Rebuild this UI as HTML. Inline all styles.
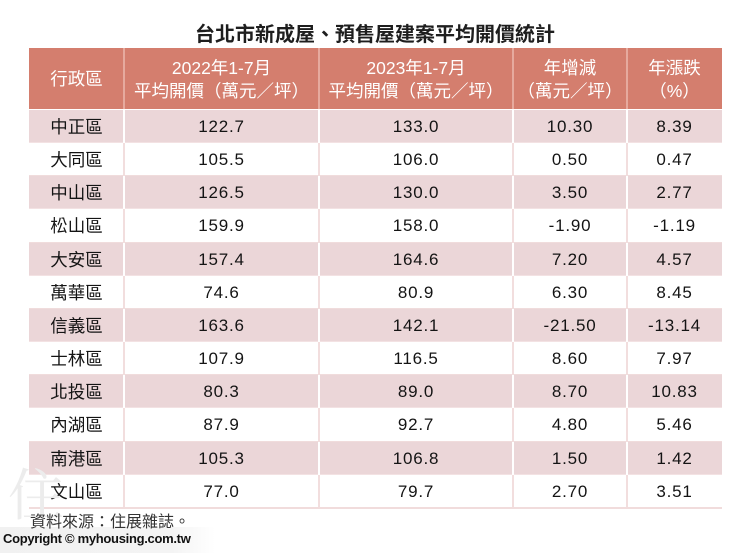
<!DOCTYPE html>
<html>
<head>
<meta charset="utf-8">
<style>
html,body{margin:0;padding:0;background:#fff;}
body{width:750px;height:553px;position:relative;overflow:hidden;font-family:"Liberation Sans","Noto Sans CJK TC",sans-serif;}
.title{position:absolute;left:0;top:21px;width:750px;text-align:center;font-family:"Noto Sans CJK TC",sans-serif;font-weight:bold;font-size:20px;line-height:24px;color:#1e1e1e;}
.hdr{position:absolute;top:48px;height:61px;background:#d47e6e;}
.hcell{position:absolute;top:48px;height:61px;display:flex;align-items:center;justify-content:center;text-align:center;color:#fff;font-family:"Liberation Sans","Noto Sans CJK TC",sans-serif;font-size:17.5px;line-height:23px;padding-top:2px;box-sizing:border-box;}
.hdiv{position:absolute;top:48px;height:61px;width:2px;background:#e6aa9e;}
.row{position:absolute;left:29px;width:693px;height:33.2px;border-bottom:1px solid #f0dcdc;box-sizing:border-box;}
.pink{background:#ebd6d8;border-bottom-color:#f3e2e3;}
.cell{position:absolute;top:0;height:33px;line-height:33px;text-align:center;color:#141414;}
.c0{left:0;width:95px;font-family:"Noto Sans CJK TC",sans-serif;font-size:17.5px;}
.c1{left:95px;width:195px;}
.c2{left:290px;width:194px;}
.c3{left:484px;width:114px;}
.c4{left:598px;width:95px;}
.c1,.c2,.c3,.c4{font-family:"Liberation Sans",sans-serif;font-size:17px;letter-spacing:0.8px;}
.d{position:absolute;top:0;height:33.2px;width:2px;background:#f2dede;}
.pink .d{background:#ffffff;}
.d1{left:94px;}.d2{left:289px;}.d3{left:483px;}.d4{left:597px;}
.bot{position:absolute;left:29px;width:693px;height:2px;top:507px;background:#f1dcdc;}
.src{position:absolute;left:30px;top:509px;font-family:"Noto Sans CJK TC",sans-serif;font-size:16px;line-height:22px;color:#333;z-index:3;}
.copy{position:absolute;left:0;top:527px;width:215px;height:26px;background:linear-gradient(to right,#f1f1f1 0%,#f4f4f4 80%,rgba(255,255,255,0) 100%);z-index:2;}
.copyt{position:absolute;left:3px;top:531px;font-family:"Liberation Sans",sans-serif;font-weight:bold;font-size:13px;letter-spacing:-0.3px;line-height:16px;color:#111;z-index:3;}
.wm{position:absolute;left:8px;top:462px;font-family:"Noto Serif CJK SC",serif;font-size:56px;color:#ececec;line-height:60px;z-index:1;}
</style>
</head>
<body>
<div class="title">台北市新成屋、預售屋建案平均開價統計</div>

<div class="hdr" style="left:29px;width:693px;"></div>
<div class="hcell" style="left:29px;width:95px;">行政區</div>
<div class="hcell" style="left:124px;width:195px;">2022年1-7月<br>平均開價（萬元／坪）</div>
<div class="hcell" style="left:319px;width:194px;">2023年1-7月<br>平均開價（萬元／坪）</div>
<div class="hcell" style="left:513px;width:114px;">年增減<br>（萬元／坪）</div>
<div class="hcell" style="left:627px;width:95px;">年漲跌<br>（%）</div>
<div class="hdiv" style="left:123px;"></div>
<div class="hdiv" style="left:318px;"></div>
<div class="hdiv" style="left:512px;"></div>
<div class="hdiv" style="left:626px;"></div>

<div class="row pink" style="top:110px;"><div class="cell c0">中正區</div><div class="cell c1">122.7</div><div class="cell c2">133.0</div><div class="cell c3">10.30</div><div class="cell c4">8.39</div><div class="d d1"></div><div class="d d2"></div><div class="d d3"></div><div class="d d4"></div></div>
<div class="row" style="top:143.15px;"><div class="cell c0">大同區</div><div class="cell c1">105.5</div><div class="cell c2">106.0</div><div class="cell c3">0.50</div><div class="cell c4">0.47</div><div class="d d1"></div><div class="d d2"></div><div class="d d3"></div><div class="d d4"></div></div>
<div class="row pink" style="top:176.3px;"><div class="cell c0">中山區</div><div class="cell c1">126.5</div><div class="cell c2">130.0</div><div class="cell c3">3.50</div><div class="cell c4">2.77</div><div class="d d1"></div><div class="d d2"></div><div class="d d3"></div><div class="d d4"></div></div>
<div class="row" style="top:209.45px;"><div class="cell c0">松山區</div><div class="cell c1">159.9</div><div class="cell c2">158.0</div><div class="cell c3">-1.90</div><div class="cell c4">-1.19</div><div class="d d1"></div><div class="d d2"></div><div class="d d3"></div><div class="d d4"></div></div>
<div class="row pink" style="top:242.6px;"><div class="cell c0">大安區</div><div class="cell c1">157.4</div><div class="cell c2">164.6</div><div class="cell c3">7.20</div><div class="cell c4">4.57</div><div class="d d1"></div><div class="d d2"></div><div class="d d3"></div><div class="d d4"></div></div>
<div class="row" style="top:275.75px;"><div class="cell c0">萬華區</div><div class="cell c1">74.6</div><div class="cell c2">80.9</div><div class="cell c3">6.30</div><div class="cell c4">8.45</div><div class="d d1"></div><div class="d d2"></div><div class="d d3"></div><div class="d d4"></div></div>
<div class="row pink" style="top:308.9px;"><div class="cell c0">信義區</div><div class="cell c1">163.6</div><div class="cell c2">142.1</div><div class="cell c3">-21.50</div><div class="cell c4">-13.14</div><div class="d d1"></div><div class="d d2"></div><div class="d d3"></div><div class="d d4"></div></div>
<div class="row" style="top:342.05px;"><div class="cell c0">士林區</div><div class="cell c1">107.9</div><div class="cell c2">116.5</div><div class="cell c3">8.60</div><div class="cell c4">7.97</div><div class="d d1"></div><div class="d d2"></div><div class="d d3"></div><div class="d d4"></div></div>
<div class="row pink" style="top:375.2px;"><div class="cell c0">北投區</div><div class="cell c1">80.3</div><div class="cell c2">89.0</div><div class="cell c3">8.70</div><div class="cell c4">10.83</div><div class="d d1"></div><div class="d d2"></div><div class="d d3"></div><div class="d d4"></div></div>
<div class="row" style="top:408.35px;"><div class="cell c0">內湖區</div><div class="cell c1">87.9</div><div class="cell c2">92.7</div><div class="cell c3">4.80</div><div class="cell c4">5.46</div><div class="d d1"></div><div class="d d2"></div><div class="d d3"></div><div class="d d4"></div></div>
<div class="row pink" style="top:441.5px;"><div class="cell c0">南港區</div><div class="cell c1">105.3</div><div class="cell c2">106.8</div><div class="cell c3">1.50</div><div class="cell c4">1.42</div><div class="d d1"></div><div class="d d2"></div><div class="d d3"></div><div class="d d4"></div></div>
<div class="row" style="top:474.65px;"><div class="cell c0">文山區</div><div class="cell c1">77.0</div><div class="cell c2">79.7</div><div class="cell c3">2.70</div><div class="cell c4">3.51</div><div class="d d1"></div><div class="d d2"></div><div class="d d3"></div><div class="d d4"></div></div>
<div class="bot"></div>

<div class="wm">住</div>
<div class="copy"></div>
<div class="src">資料來源：住展雜誌。</div>
<div class="copyt">Copyright © myhousing.com.tw</div>
</body>
</html>
